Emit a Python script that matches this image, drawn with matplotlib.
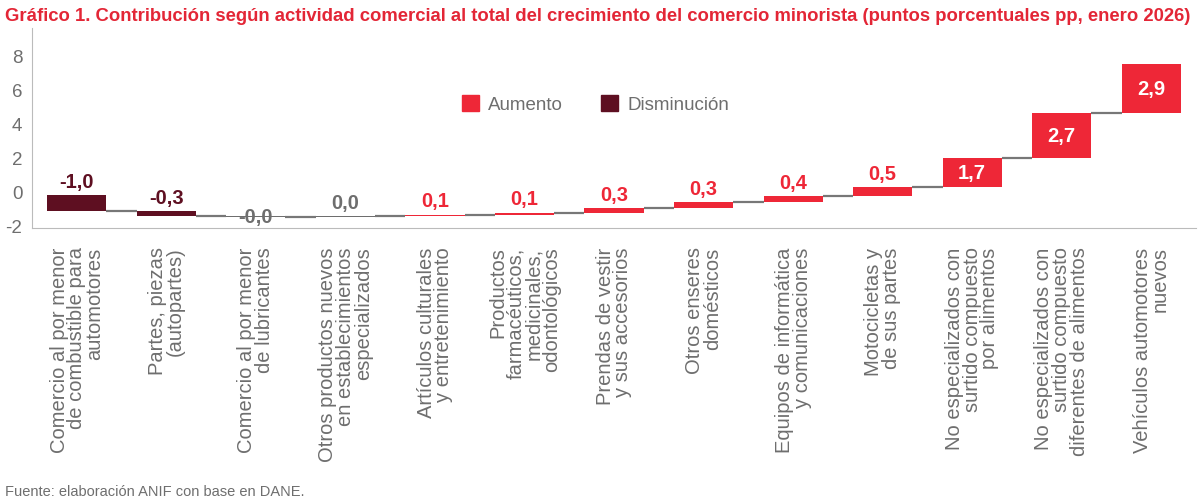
import numpy as np
import matplotlib
matplotlib.use('Agg')
import matplotlib.pyplot as plt
from matplotlib.patches import Patch

# datos (pp, enero 2026) ---------------------------------
categorias = [
    'Comercio al por menor\nde combustible para\nautomotores',
    'Partes, piezas\n(autopartes)',
    'Comercio al por menor\nde lubricantes',
    'Otros productos nuevos\nen establecimientos\nespecializados',
    'Artículos culturales\ny entretenimiento',
    'Productos\nfarmacéuticos,\nmedicinales,\nodontológicos',
    'Prendas de vestir\ny sus accesorios',
    'Otros enseres\ndomésticos',
    'Equipos de informática\ny comunicaciones',
    'Motocicletas y\nde sus partes',
    'No especializados con\nsurtido compuesto\npor alimentos',
    'No especializados con\nsurtido compuesto\ndiferentes de alimentos',
    'Vehículos automotores\nnuevos',
]
contrib = [-0.96, -0.29, -0.03, 0.03, 0.10, 0.12, 0.28, 0.32, 0.39, 0.52, 1.71, 2.66, 2.88]
inicio = -0.24  # nivel donde arranca la cascada
yticks = [-2, 0, 2, 4, 6, 8]

titulo = ('Gráfico 1. Contribución según actividad comercial al total del crecimiento '
          'del comercio minorista (puntos porcentuales pp, enero 2026)')
fuente = 'Fuente: elaboración ANIF con base en DANE.'

ROJO = '#EE2737'
GRANATE = '#5E0F21'
GRIS = '#6E6E6E'
GRIS_LINEA = '#777777'

plt.rcParams['font.family'] = ['Liberation Sans', 'DejaVu Sans']

fig = plt.figure(figsize=(12, 5.02), dpi=100)
ax = fig.add_axes([0.0267, 0.543, 0.97, 0.399])

contrib = np.array(contrib)
fin = inicio + np.cumsum(contrib)
ini = fin - contrib
x = np.arange(len(contrib))
ancho = 0.66

colores = []
for v in contrib:
    if round(v, 1) == 0:
        colores.append(GRIS)
    elif v > 0:
        colores.append(ROJO)
    else:
        colores.append(GRANATE)

ax.bar(x, contrib, bottom=ini, width=ancho, color=colores, edgecolor='none')

# conectores entre barras
for i in range(len(x) - 1):
    ax.plot([x[i] + ancho / 2, x[i + 1] - ancho / 2], [fin[i], fin[i]],
            color=GRIS_LINEA, lw=1.6, solid_capstyle='butt')

# etiquetas
for i, v in enumerate(contrib):
    txt = f'{v:.1f}'.replace('.', ',')
    tope = max(ini[i], fin[i])
    if abs(v) >= 1:
        ax.text(x[i], (ini[i] + fin[i]) / 2, txt, ha='center', va='center',
                color='white', fontsize=14.5, fontweight='bold')
    elif round(v, 1) == 0 and v < 0:
        ax.text(x[i], fin[i], txt, ha='center', va='center',
                color=GRIS, fontsize=14.5, fontweight='bold')
    else:
        ax.annotate(txt, (x[i], tope), xytext=(0, 3), textcoords='offset points',
                    ha='center', va='bottom', color=colores[i],
                    fontsize=14.5, fontweight='bold')

ax.set_xlim(-0.5, len(x) - 0.5)
ax.set_ylim(-2.2, 9.6)
ax.set_yticks(yticks)
ax.set_yticklabels([str(t) for t in yticks])
ax.tick_params(axis='y', length=0, labelsize=13.5, labelcolor=GRIS, pad=7)
ax.set_xticks(x)
ax.set_xticklabels(categorias, rotation=90, ha='center', va='top',
                   multialignment='right', linespacing=0.92)
ax.tick_params(axis='x', length=0, labelsize=14.5, labelcolor=GRIS, pad=13)

for s in ['top', 'right']:
    ax.spines[s].set_visible(False)
ax.spines['left'].set_color('#BBBBBB')
ax.spines['bottom'].set_color('#BBBBBB')

leyenda = [Patch(color=ROJO, label='Aumento'), Patch(color=GRANATE, label='Disminución')]
ax.legend(handles=leyenda, loc='center left', bbox_to_anchor=(0.355, 0.62),
          ncol=2, frameon=False, fontsize=13.5, labelcolor=GRIS,
          handlelength=0.9, handleheight=0.9, handletextpad=0.5, columnspacing=2.0)

fig.text(0.004, 0.985, titulo, ha='left', va='top', color='#E32636',
         fontsize=13.3, fontweight='bold')
fig.text(0.004, 0.005, fuente, ha='left', va='bottom', color=GRIS, fontsize=10.5)

fig.savefig('out.png', dpi=100)
